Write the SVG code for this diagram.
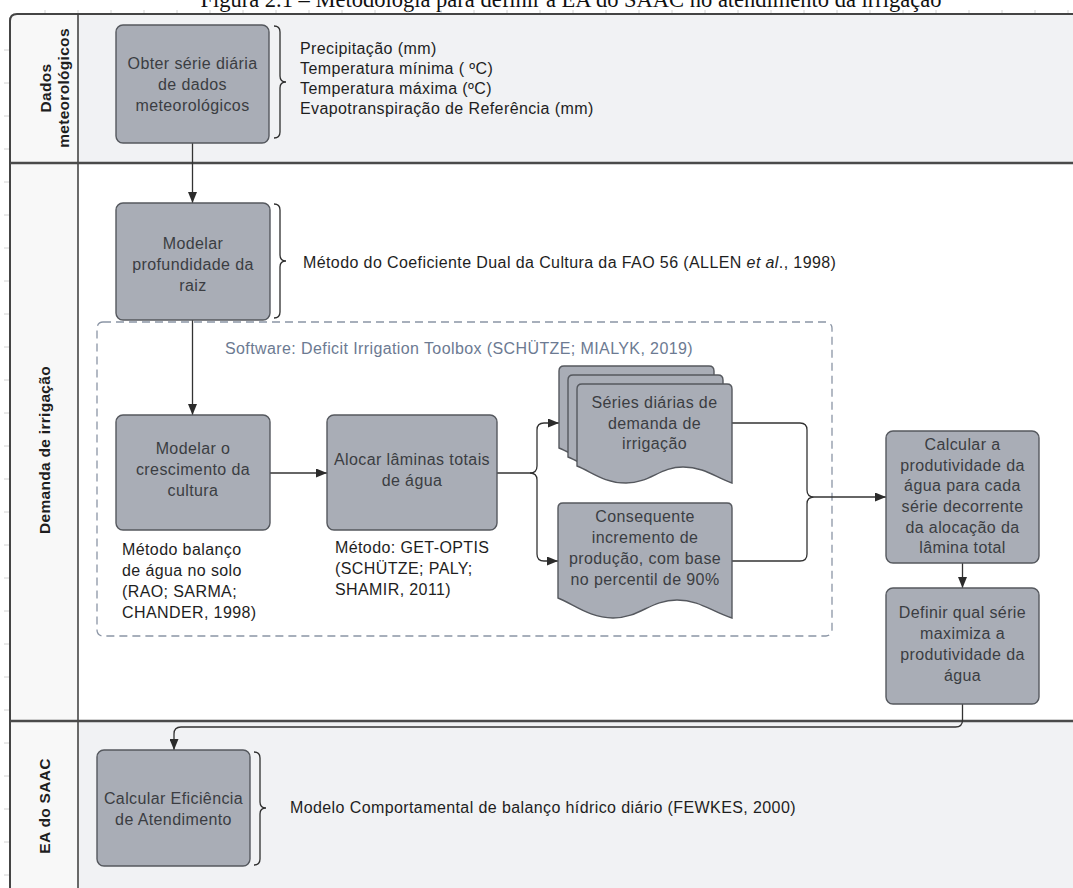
<svg xmlns="http://www.w3.org/2000/svg" width="1073" height="888" viewBox="0 0 1073 888">
<defs>
<style>
.t{font-family:"Liberation Sans",Arial,sans-serif;font-size:16px;letter-spacing:0.4px;fill:#3b3d42;text-anchor:middle}
.a{font-family:"Liberation Sans",Arial,sans-serif;font-size:16px;letter-spacing:0.4px;fill:#1e1e1e}
.lane{font-family:"Liberation Sans",Arial,sans-serif;font-size:15.5px;font-weight:bold;letter-spacing:0.3px;fill:#1e1e1e;text-anchor:middle}
.box{fill:#a9adb6;stroke:#55585e;stroke-width:1.4}
.brace{fill:none;stroke:#2e2e2e;stroke-width:1.3}
.conn{fill:none;stroke:#333;stroke-width:1.3}
.tick{stroke:#d2d2d2;stroke-width:1}
</style>
<marker id="arr" markerUnits="userSpaceOnUse" markerWidth="11" markerHeight="9" refX="11" refY="4.5" orient="auto">
<path d="M0,0 L11,4.5 L0,9 z" fill="#2b2b2b"/>
</marker>
<path id="docFront" d="M577,389 Q577,384 582,384 H727 Q732,384 732,389 V483 C716,478 705,467 683,467 C660,467 650,483 626,483 C604,483 592,472 577,466 Z"/>
</defs>

<text x="571" y="7" font-family="'Liberation Serif','Times New Roman',serif" font-size="22.5" text-anchor="middle" fill="#111">Figura 2.1 – Metodologia para definir a EA do SAAC no atendimento da irrigação</text>

<g id="ticks">
<path class="tick" d="M45,10V14M78,10V14M111,10V14M144,10V14M177,10V14M210,10V14M243,10V14M276,10V14M309,10V14M342,10V14M375,10V14M408,10V14M441,10V14M474,10V14M507,10V14M540,10V14M573,10V14M606,10V14M639,10V14M672,10V14M705,10V14M738,10V14M771,10V14M804,10V14M837,10V14M870,10V14M903,10V14M936,10V14M969,10V14M1002,10V14M1035,10V14M1068,10V14"/>
<path class="tick" d="M4,50H9M4,83H9M4,116H9M4,149H9M4,182H9M4,215H9M4,248H9M4,281H9M4,314H9M4,347H9M4,380H9M4,413H9M4,446H9M4,479H9M4,512H9M4,545H9M4,578H9M4,611H9M4,644H9M4,677H9M4,710H9M4,743H9M4,776H9M4,809H9M4,842H9M4,875H9"/>
</g>

<g id="pool">
<path d="M10,892 V21 Q10,14 17,14 H78 V892 Z" fill="#f8f8f8"/>
<rect x="78" y="14" width="1000" height="149" fill="#f1f2f4"/>
<rect x="78" y="163" width="1000" height="558" fill="#ffffff"/>
<rect x="78" y="721" width="1000" height="171" fill="#f1f2f4"/>
<path d="M10,892 V21 Q10,14 17,14 H1080" fill="none" stroke="#444" stroke-width="2"/>
<path d="M78,14 V892" fill="none" stroke="#3a3a3a" stroke-width="1.5"/>
<path d="M10,163 H1080 M10,721 H1080" fill="none" stroke="#4a4a4a" stroke-width="2.4"/>
</g>

<g id="lane-dados">
<text class="lane" transform="translate(51,88) rotate(-90)">Dados</text>
<text class="lane" transform="translate(69,88) rotate(-90)">meteorológicos</text>
</g>
<g id="lane-demanda">
<text class="lane" transform="translate(50,450) rotate(-90)">Demanda de irrigação</text>
</g>
<g id="lane-ea">
<text class="lane" transform="translate(50,806) rotate(-90)">EA do SAAC</text>
</g>

<g id="software-container">
<rect x="97" y="322" width="735" height="314" rx="6" fill="none" stroke="#8b95a5" stroke-width="1.3" stroke-dasharray="8 5"/>
<text x="225" y="354" font-family="'Liberation Sans',Arial,sans-serif" font-size="16" letter-spacing="0.4" fill="#6c7a92">Software: Deficit Irrigation Toolbox (SCHÜTZE; MIALYK, 2019)</text>
</g>

<g id="connectors">
<path class="conn" d="M192.5,143 V203" marker-end="url(#arr)"/>
<path class="conn" d="M192.5,320 V415" marker-end="url(#arr)"/>
<path class="conn" d="M270,473 H327" marker-end="url(#arr)"/>
<path class="conn" d="M497,473 H530 Q537,473 537,466 V430 Q537,423 544,423 H559" marker-end="url(#arr)"/>
<path class="conn" d="M530,473 Q537,473 537,480 V554 Q537,561 544,561 H558" marker-end="url(#arr)"/>
<path class="conn" d="M732,423 H800 Q807,423 807,430 V490 Q807,497 814,497 M732,561 H800 Q807,561 807,554 V504 Q807,497 814,497"/>
<path class="conn" d="M814,497 H886" marker-end="url(#arr)"/>
<path class="conn" d="M962.5,563 V588" marker-end="url(#arr)"/>
<path class="conn" d="M962.5,704 V720 Q962.5,727 955.5,727 H181 Q174,727 174,734 V750" marker-end="url(#arr)"/>
</g>

<g id="n-obter">
<rect class="box" x="116" y="25" width="153" height="118" rx="7"/>
<text class="t" x="192.5" y="69">Obter série diária</text>
<text class="t" x="192.5" y="90">de dados</text>
<text class="t" x="192.5" y="111">meteorológicos</text>
</g>
<g id="note-obter">
<path class="brace" d="M274,26 Q280,26 280,32 V76 Q280,82 286,82 Q280,82 280,88 V132 Q280,138 274,138"/>
<text class="a" x="300" y="54">Precipitação (mm)</text>
<text class="a" x="300" y="74">Temperatura mínima ( ºC)</text>
<text class="a" x="300" y="94">Temperatura máxima (ºC)</text>
<text class="a" x="300" y="114">Evapotranspiração de Referência (mm)</text>
</g>

<g id="n-raiz">
<rect class="box" x="116" y="203" width="154" height="117" rx="7"/>
<text class="t" x="193" y="249">Modelar</text>
<text class="t" x="193" y="270">profundidade da</text>
<text class="t" x="193" y="291">raiz</text>
</g>
<g id="note-raiz">
<path class="brace" d="M274,204 Q280,204 280,210 V255 Q280,261 286,261 Q280,261 280,267 V312 Q280,318 274,318"/>
<text class="a" x="303" y="268">Método do Coeficiente Dual da Cultura da FAO 56 (ALLEN <tspan font-style="italic">et al</tspan>., 1998)</text>
</g>

<g id="n-crescimento">
<rect class="box" x="116" y="415" width="154" height="115" rx="7"/>
<text class="t" x="193" y="454">Modelar o</text>
<text class="t" x="193" y="475">crescimento da</text>
<text class="t" x="193" y="496">cultura</text>
</g>
<g id="note-crescimento">
<text class="a" x="122" y="555">Método balanço</text>
<text class="a" x="122" y="576">de água no solo</text>
<text class="a" x="122" y="597">(RAO; SARMA;</text>
<text class="a" x="122" y="618">CHANDER, 1998)</text>
</g>

<g id="n-alocar">
<rect class="box" x="327" y="415" width="170" height="115" rx="7"/>
<text class="t" x="412" y="465">Alocar lâminas totais</text>
<text class="t" x="412" y="486">de água</text>
</g>
<g id="note-alocar">
<text class="a" x="335" y="553">Método: GET-OPTIS</text>
<text class="a" x="335" y="574">(SCHÜTZE; PALY;</text>
<text class="a" x="335" y="595">SHAMIR, 2011)</text>
</g>

<g id="n-series">
<use href="#docFront" class="box" transform="translate(-18,-18)"/>
<use href="#docFront" class="box" transform="translate(-9,-9)"/>
<use href="#docFront" class="box"/>
<text class="t" x="654.5" y="408">Séries diárias de</text>
<text class="t" x="654.5" y="429">demanda de</text>
<text class="t" x="654.5" y="449">irrigação</text>
</g>

<g id="n-consequente">
<path class="box" d="M558,508 Q558,503 563,503 H727 Q732,503 732,508 V618 C712,612 700,600 677,600 C650,600 640,618 613,618 C590,618 575,605 558,598 Z"/>
<text class="t" x="645" y="522">Consequente</text>
<text class="t" x="645" y="543">incremento de</text>
<text class="t" x="645" y="564">produção, com base</text>
<text class="t" x="645" y="585">no percentil de 90%</text>
</g>

<g id="n-calcular-produtividade">
<rect class="box" x="886" y="431" width="153" height="132" rx="7"/>
<text class="t" x="962.5" y="450">Calcular a</text>
<text class="t" x="962.5" y="471">produtividade da</text>
<text class="t" x="962.5" y="491">água para cada</text>
<text class="t" x="962.5" y="512">série decorrente</text>
<text class="t" x="962.5" y="533">da alocação da</text>
<text class="t" x="962.5" y="553">lâmina total</text>
</g>

<g id="n-definir">
<rect class="box" x="886" y="588" width="153" height="116" rx="7"/>
<text class="t" x="962.5" y="618">Definir qual série</text>
<text class="t" x="962.5" y="639">maximiza a</text>
<text class="t" x="962.5" y="660">produtividade da</text>
<text class="t" x="962.5" y="681">água</text>
</g>

<g id="n-eficiencia">
<rect class="box" x="97" y="750" width="153" height="116" rx="7"/>
<text class="t" x="173.5" y="804">Calcular Eficiência</text>
<text class="t" x="173.5" y="825">de Atendimento</text>
</g>
<g id="note-eficiencia">
<path class="brace" d="M254,752 Q260,752 260,758 V802 Q260,808 266,808 Q260,808 260,814 V859 Q260,865 254,865"/>
<text class="a" x="290" y="813">Modelo Comportamental de balanço hídrico diário (FEWKES, 2000)</text>
</g>
</svg>
